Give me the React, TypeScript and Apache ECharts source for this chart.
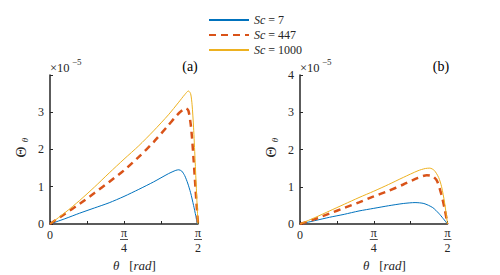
import React, { useEffect, useRef } from "react";
import * as echarts from "echarts";

// x values are fractions of pi/2 (axis runs 0 .. 1 == 0 .. pi/2)
const seriesNames = ["Sc = 7", "Sc = 447", "Sc = 1000"];
const colors = ["#0072BD", "#D95319", "#EDB120"];

// Panel (a)
const aX7 = [0, 0.1, 0.2, 0.3, 0.4, 0.5, 0.6, 0.7, 0.8, 0.85, 0.87, 0.89, 0.91, 0.93, 0.95, 0.97, 0.985, 0.995];
const aY7 = [0, 0.14, 0.29, 0.43, 0.57, 0.74, 0.93, 1.13, 1.35, 1.44, 1.455, 1.42, 1.3, 1.1, 0.84, 0.5, 0.22, 0];
const aX447 = [0, 0.1, 0.2, 0.3, 0.4, 0.5, 0.6, 0.7, 0.8, 0.86, 0.9, 0.92, 0.935, 0.95, 0.96, 0.97, 0.98, 0.99, 1.0];
const aY447 = [0, 0.27, 0.54, 0.83, 1.13, 1.44, 1.8, 2.2, 2.65, 2.93, 3.07, 3.1, 3.04, 2.7, 2.3, 1.75, 1.15, 0.55, 0];
const aX1000 = [0, 0.1, 0.2, 0.3, 0.4, 0.5, 0.6, 0.7, 0.8, 0.87, 0.91, 0.935, 0.95, 0.96, 0.97, 0.98, 0.99, 1.0];
const aY1000 = [0, 0.3, 0.63, 0.99, 1.37, 1.74, 2.1, 2.5, 2.93, 3.27, 3.47, 3.57, 3.5, 3.2, 2.6, 1.75, 0.85, 0];

// Panel (b)
const bX7 = [0, 0.1, 0.2, 0.3, 0.4, 0.5, 0.6, 0.7, 0.78, 0.84, 0.9, 0.94, 0.97, 1.0];
const bY7 = [0, 0.09, 0.18, 0.26, 0.35, 0.42, 0.49, 0.55, 0.575, 0.55, 0.44, 0.29, 0.15, 0];
const bX447 = [0, 0.1, 0.2, 0.3, 0.4, 0.5, 0.6, 0.7, 0.8, 0.86, 0.9, 0.93, 0.96, 0.98, 1.0];
const bY447 = [0, 0.13, 0.28, 0.43, 0.58, 0.74, 0.89, 1.06, 1.24, 1.31, 1.28, 1.15, 0.77, 0.42, 0];
const bX1000 = [0, 0.1, 0.2, 0.3, 0.4, 0.5, 0.6, 0.7, 0.8, 0.85, 0.88, 0.91, 0.94, 0.96, 0.98, 1.0];
const bY1000 = [0, 0.17, 0.35, 0.53, 0.71, 0.88, 1.06, 1.25, 1.43, 1.49, 1.5, 1.44, 1.25, 1.0, 0.58, 0];

const panelLabels = ["(a)", "(b)"];

const FONT = "Liberation Serif";
const AX = "#262626";

const zip = (xs: number[], ys: number[]) => xs.map((x, i) => [x, ys[i]]);

export default function App() {
  const ref = useRef<HTMLDivElement>(null);
  useEffect(() => {
    if (!ref.current) return;
    const chart = echarts.init(ref.current, undefined, { renderer: "svg" });

    const grids = [
      { left: 50, top: 75, width: 148, height: 149 },
      { left: 300, top: 75, width: 147.5, height: 149 },
    ];
    const xAxis = [0, 1].map((i) => ({
      type: "value",
      gridIndex: i,
      min: 0,
      max: 1,
      interval: 0.25,
      axisLine: { lineStyle: { color: AX, width: 1.5 } },
      axisTick: { inside: true, length: 3, lineStyle: { color: AX } },
      splitLine: { show: false },
      axisLabel: {
        color: AX,
        fontFamily: FONT,
        fontSize: 12,
        margin: 4,
        formatter: (v: number) =>
          v === 0 ? "{z|0}" : v === 0.5 ? "{n|π}\n{l| }\n{d|4}" : v === 1 ? "{n|π}\n{l| }\n{d|2}" : "",
        rich: {
          z: { fontFamily: FONT, fontSize: 12, color: AX, lineHeight: 14 },
          n: { fontFamily: FONT, fontSize: 12, color: AX, lineHeight: 9 },
          l: { width: 8, height: 0.8, backgroundColor: AX, fontSize: 1, lineHeight: 5 },
          d: { fontFamily: FONT, fontSize: 12, color: AX, lineHeight: 12 },
        },
      },
    }));
    const yAxis = [0, 1].map((i) => ({
      type: "value",
      gridIndex: i,
      min: 0,
      max: i === 0 ? 3.999 : 4,
      interval: 1,
      axisLine: { show: true, lineStyle: { color: AX, width: 1.5 } },
      axisTick: { show: true, inside: true, length: 3, lineStyle: { color: AX } },
      splitLine: { show: false },
      axisLabel: {
        color: AX,
        fontFamily: FONT,
        fontSize: 12,
        margin: 6,
        formatter: (v: number) => (Number.isInteger(v) ? String(v) : ""),
      },
    }));

    const mk = (name: string, idx: number, grid: number, data: number[][]) => ({
      name,
      type: "line",
      xAxisIndex: grid,
      yAxisIndex: grid,
      data,
      symbol: "none",
      smooth: 0.25,
      lineStyle:
        idx === 1
          ? { color: colors[idx], width: 2.5, type: [7, 5] }
          : { color: colors[idx], width: 1 },
      itemStyle: { color: colors[idx] },
      z: 2 + idx,
    });

    const series = [
      mk(seriesNames[0], 0, 0, zip(aX7, aY7)),
      mk(seriesNames[1], 1, 0, zip(aX447, aY447)),
      mk(seriesNames[2], 2, 0, zip(aX1000, aY1000)),
      mk(seriesNames[0], 0, 1, zip(bX7, bY7)),
      mk(seriesNames[1], 1, 1, zip(bX447, bY447)),
      mk(seriesNames[2], 2, 1, zip(bX1000, bY1000)),
    ];

    const graphics: any[] = [];
    [0, 1].forEach((i) => {
      const ox = i * 250;
      graphics.push(
        { type: "text", x: 50 + ox, y: 68, style: { text: "×10", fontFamily: FONT, fontSize: 12.5, fill: AX, verticalAlign: "middle" } },
        { type: "text", x: 72 + ox, y: 62, style: { text: "−5", fontFamily: FONT, fontSize: 9, fill: AX, verticalAlign: "middle" } },
        { type: "text", x: i === 0 ? 190 : 441, y: 66, style: { text: panelLabels[i], fontFamily: FONT, fontSize: 14, fill: "#000", align: "center", verticalAlign: "middle" } },
        { type: "text", x: 21 + ox, y: 152, rotation: Math.PI / 2, style: { text: "Θ", fontFamily: FONT, fontSize: 15, fill: AX, align: "center", verticalAlign: "middle" } },
        { type: "text", x: 25 + ox, y: 140, rotation: Math.PI / 2, style: { text: "θ", fontFamily: FONT, fontStyle: "italic", fontSize: 9, fill: AX, align: "center", verticalAlign: "middle" } },
        {
          type: "text",
          x: 113 + ox,
          y: 265,
          style: {
            text: "{i|θ}   [{i|rad}]",
            fontFamily: FONT,
            fontSize: 13,
            fill: AX,
            verticalAlign: "middle",
            rich: { i: { fontFamily: FONT, fontStyle: "italic", fontSize: 13, fill: AX } },
          },
        }
      );
    });

    chart.setOption({
      animation: false,
      backgroundColor: "#fff",
      grid: grids,
      xAxis,
      yAxis,
      legend: {
        orient: "vertical",
        left: 203,
        top: 9,
        itemWidth: 40,
        itemHeight: 11.5,
        itemGap: 3,
        data: seriesNames,
        itemStyle: { opacity: 0 },
        textStyle: {
          fontFamily: FONT,
          fontSize: 12,
          color: AX,
          rich: { i: { fontFamily: FONT, fontStyle: "italic", fontSize: 12, color: AX } },
        },
        formatter: (n: string) => n.replace("Sc", "{i|Sc}"),
      },
      series,
      graphic: graphics,
    });
    return () => chart.dispose();
  }, []);
  return <div ref={ref} style={{ position: "fixed", left: 0, top: 0, width: 500, height: 275 }} />;
}
